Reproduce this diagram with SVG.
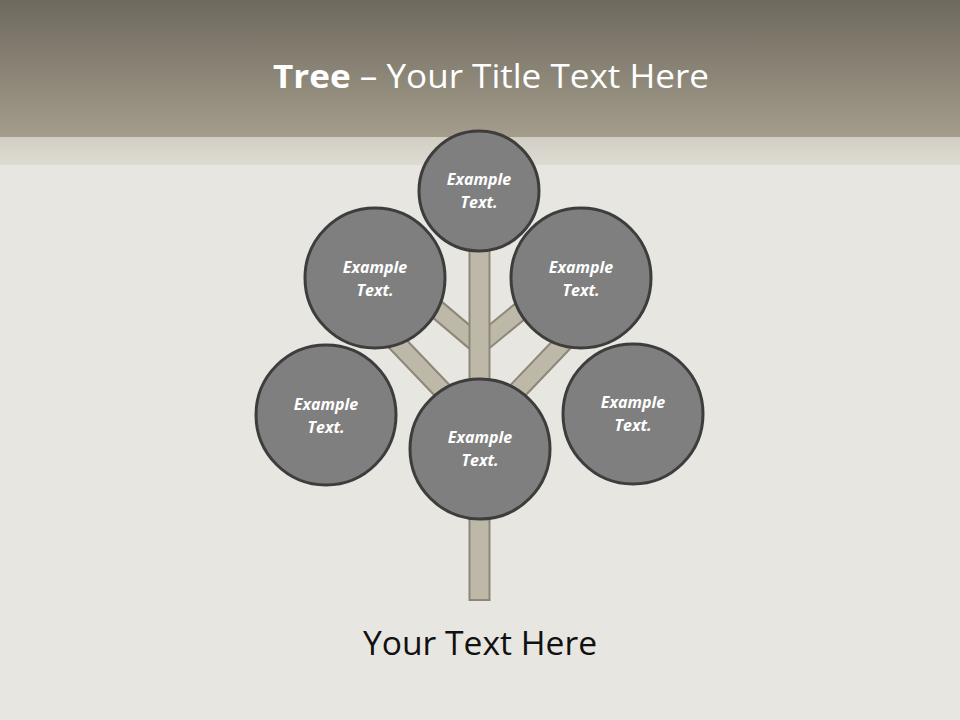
<svg xmlns="http://www.w3.org/2000/svg" width="960" height="720" viewBox="0 0 960 720">
<defs>
<linearGradient id="hdr" x1="0" y1="0" x2="0" y2="1">
<stop offset="0" stop-color="#6e695e"/>
<stop offset="1" stop-color="#a49d8c"/>
</linearGradient>
<linearGradient id="band" x1="0" y1="0" x2="0" y2="1">
<stop offset="0" stop-color="#d2cec4"/>
<stop offset="1" stop-color="#dedbd3"/>
</linearGradient>
</defs>
<style>
.node circle{fill:#7f7f7f;stroke:#3d3d3d;stroke-width:3}
.node text{font-family:"Open Sans","Liberation Sans",sans-serif;font-weight:bold;font-style:italic;font-size:16px;fill:#ffffff;text-anchor:middle}
.br-out{stroke:#8c8779;stroke-width:20;fill:none}
.br-in{stroke:#bdb8a8;stroke-width:16;fill:none}
</style>
<rect x="0" y="0" width="960" height="720" fill="#e8e6e0"/>
<rect x="0" y="137" width="960" height="28" fill="url(#band)"/>
<rect x="0" y="0" width="960" height="137" fill="url(#hdr)"/>
<text x="491" y="88" font-family="Open Sans, Liberation Sans, sans-serif" font-size="33" fill="#ffffff" text-anchor="middle" textLength="436" lengthAdjust="spacingAndGlyphs"><tspan font-weight="bold">Tree</tspan> – Your Title Text Here</text>
<g id="connectors">
<line class="br-out" x1="480" y1="430" x2="375" y2="320"/>
<line class="br-out" x1="480" y1="430" x2="585" y2="320"/>
<line class="br-out" x1="479" y1="345" x2="420" y2="295"/>
<line class="br-out" x1="479" y1="345" x2="540" y2="295"/>
<line class="br-in" x1="480" y1="430" x2="375" y2="320"/>
<line class="br-in" x1="480" y1="430" x2="585" y2="320"/>
<line class="br-in" x1="479" y1="345" x2="420" y2="295"/>
<line class="br-in" x1="479" y1="345" x2="540" y2="295"/>
<rect x="469.5" y="240" width="20" height="360" fill="#bdb8a8" stroke="#8c8779" stroke-width="2"/>
</g>
<g id="n-top" class="node"><circle cx="479" cy="191" r="60"/><text x="479" y="185">Example</text><text x="479" y="208">Text.</text></g>
<g id="n-ul" class="node"><circle cx="375" cy="278" r="70"/><text x="375" y="273">Example</text><text x="375" y="296">Text.</text></g>
<g id="n-ur" class="node"><circle cx="581" cy="278" r="70"/><text x="581" y="273">Example</text><text x="581" y="296">Text.</text></g>
<g id="n-ll" class="node"><circle cx="326" cy="415" r="70"/><text x="326" y="410">Example</text><text x="326" y="433">Text.</text></g>
<g id="n-c" class="node"><circle cx="480" cy="449" r="70"/><text x="480" y="443">Example</text><text x="480" y="466">Text.</text></g>
<g id="n-r" class="node"><circle cx="633" cy="414" r="70"/><text x="633" y="408">Example</text><text x="633" y="431">Text.</text></g>
<text x="480" y="655" font-family="Open Sans, Liberation Sans, sans-serif" font-size="33" fill="#111111" text-anchor="middle" textLength="234" lengthAdjust="spacingAndGlyphs">Your Text Here</text>
</svg>
